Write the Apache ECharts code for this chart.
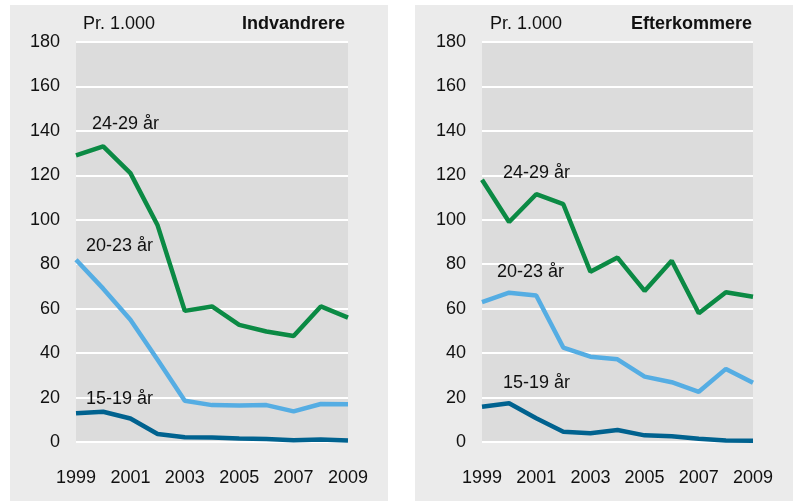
<!DOCTYPE html>
<html>
<head>
<meta charset="utf-8">
<script src="https://cdn.jsdelivr.net/npm/echarts@6/dist/echarts.min.js"></script>
<style>
  html, body { margin: 0; padding: 0; background: #fff; }
  #chart1 { width: 795px; height: 501px; }
</style>
</head>
<body>
<div id="chart1"></div>
<script>
var years = ['1999', '2000', '2001', '2002', '2003', '2004', '2005', '2006', '2007', '2008', '2009'];

// Indvandrere
var ind2429 = [129, 133, 121, 97.5, 59, 61, 52.7, 49.7, 47.7, 61, 56];
var ind2023 = [82, 69, 55, 37, 18.6, 16.6, 16.4, 16.6, 13.8, 17.1, 17];
var ind1519 = [12.9, 13.6, 10.6, 3.6, 2.1, 2.0, 1.6, 1.3, 0.8, 1.1, 0.7];

// Efterkommere
var eft2429 = [118, 99, 111.5, 107, 76.6, 83, 68, 81.6, 57.9, 67.4, 65.4];
var eft2023 = [62.9, 67.2, 65.9, 42.5, 38.4, 37.2, 29.4, 26.9, 22.6, 32.9, 26.7];
var eft1519 = [15.9, 17.4, 10.7, 4.6, 3.9, 5.4, 3.0, 2.6, 1.5, 0.7, 0.6];

var seriesNames = ['24-29 år', '20-23 år', '15-19 år'];
var colors = ['#0b8a44', '#55ade3', '#00628f'];
var fontFam = '"Liberation Sans", Arial, sans-serif';

var myChart1 = echarts.init(document.getElementById('chart1'));

function makeX(idx) {
    return {
        type: 'category',
        gridIndex: idx,
        data: years,
        boundaryGap: false,
        axisLine: { show: false },
        axisTick: { show: false },
        axisLabel: {
            interval: 1,
            margin: 27,
            color: '#111',
            fontSize: 18,
            fontFamily: fontFam
        },
        splitLine: { show: false }
    };
}

function makeY(idx) {
    return {
        type: 'value',
        gridIndex: idx,
        min: 0,
        max: 180,
        interval: 20,
        axisLine: { show: false },
        axisTick: { show: false },
        axisLabel: {
            margin: 16,
            color: '#111',
            fontSize: 18,
            fontFamily: fontFam
        },
        splitLine: { show: true, lineStyle: { color: '#ffffff', width: 2 } }
    };
}

function makeLine(idx, name, data, color) {
    return {
        name: name,
        type: 'line',
        xAxisIndex: idx,
        yAxisIndex: idx,
        data: data,
        symbol: 'none',
        lineStyle: { color: color, width: 4.5 },
        itemStyle: { color: color },
        z: 3
    };
}

function txt(x, y, s, bold, align) {
    return {
        type: 'text',
        x: x,
        y: y,
        z: 10,
        style: {
            text: s,
            fill: '#111',
            fontSize: 18,
            fontWeight: bold ? 'bold' : 'normal',
            fontFamily: fontFam,
            align: align || 'left',
            verticalAlign: 'middle'
        }
    };
}

var option = {
    backgroundColor: '#ffffff',
    animation: false,
    grid: [
        { left: 76, width: 272, top: 42, height: 400, show: true, backgroundColor: '#dcdcdc', borderWidth: 0 },
        { left: 482, width: 271, top: 42, height: 400, show: true, backgroundColor: '#dcdcdc', borderWidth: 0 }
    ],
    xAxis: [makeX(0), makeX(1)],
    yAxis: [makeY(0), makeY(1)],
    graphic: [
        { type: 'rect', z: -10, shape: { x: 10, y: 5, width: 378, height: 496 }, style: { fill: '#ebebeb' } },
        { type: 'rect', z: -10, shape: { x: 415, y: 5, width: 378, height: 496 }, style: { fill: '#ebebeb' } },
        txt(83, 24, 'Pr. 1.000', false),
        txt(345, 24, 'Indvandrere', true, 'right'),
        txt(490, 24, 'Pr. 1.000', false),
        txt(752, 24, 'Efterkommere', true, 'right'),
        txt(92, 124, seriesNames[0]),
        txt(86, 246, seriesNames[1]),
        txt(86, 399, seriesNames[2]),
        txt(503, 173, seriesNames[0]),
        txt(497, 272, seriesNames[1]),
        txt(503, 383, seriesNames[2])
    ],
    series: [
        makeLine(0, seriesNames[0], ind2429, colors[0]),
        makeLine(0, seriesNames[1], ind2023, colors[1]),
        makeLine(0, seriesNames[2], ind1519, colors[2]),
        makeLine(1, seriesNames[0], eft2429, colors[0]),
        makeLine(1, seriesNames[1], eft2023, colors[1]),
        makeLine(1, seriesNames[2], eft1519, colors[2])
    ]
};

myChart1.setOption(option);
</script>
</body>
</html>
